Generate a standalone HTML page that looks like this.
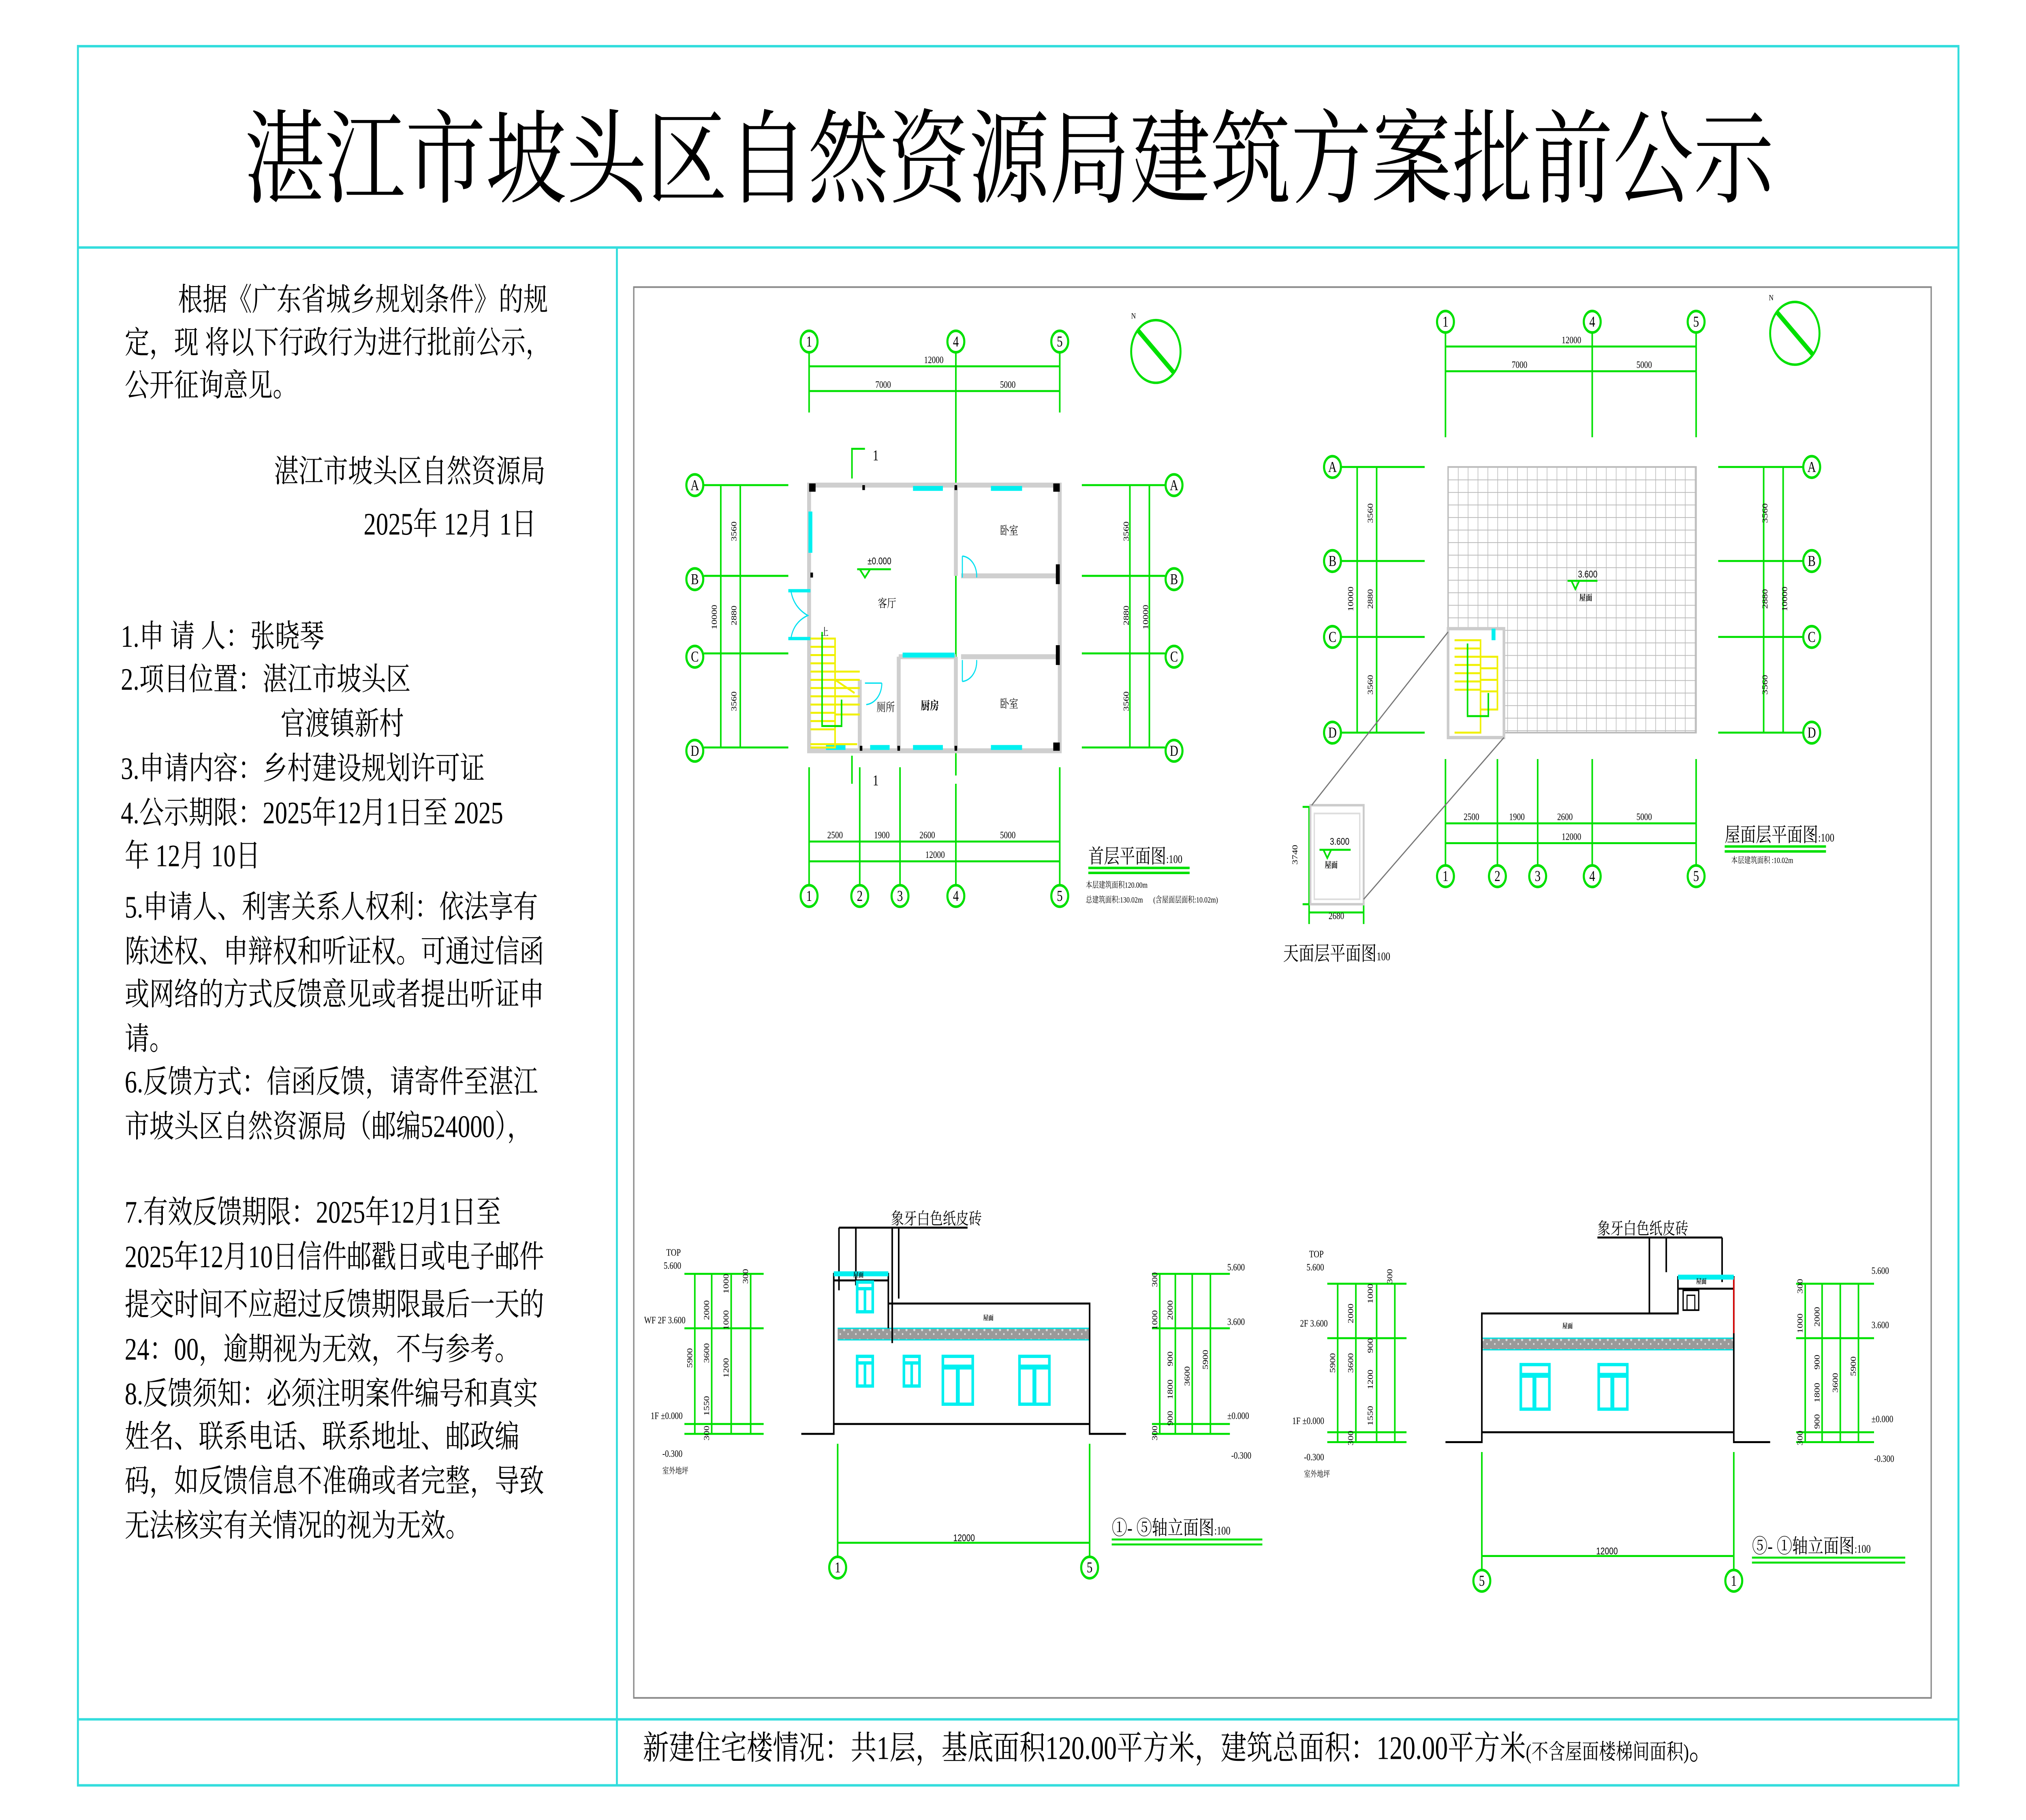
<!DOCTYPE html>
<html><head><meta charset="utf-8"><style>
html,body{margin:0;padding:0;background:#fff;width:100%;height:100%;overflow:hidden;}
svg{display:block;width:100vw;height:100vh;}
text{font-family:"Liberation Serif","Noto Serif CJK SC","Noto Sans CJK SC",serif;fill:#000;}
.s{font-family:"Liberation Sans","Noto Sans CJK SC",sans-serif;}
.g{stroke:#00e000;stroke-width:1.2;fill:none;}
.gc{stroke:#00e000;stroke-width:1.6;fill:#fff;}
.w{stroke:#cfcfcf;stroke-width:3;fill:none;}
.c{stroke:#00f0f0;stroke-width:3;fill:none;}
.k{stroke:#000;stroke-width:1.2;fill:none;}
.y{stroke:#f0f000;stroke-width:1.2;fill:none;}
</style></head><body>
<svg viewBox="0 0 1560 1103" preserveAspectRatio="none" xmlns="http://www.w3.org/2000/svg">
<defs>
<pattern id="grid" width="7.6" height="7.6" patternUnits="userSpaceOnUse" x="1115" y="283">
<rect width="7.6" height="7.6" fill="#fff"/><path d="M0 0H7.6M0 0V7.6" stroke="#b8b8b8" stroke-width="0.9"/></pattern>
<pattern id="band" width="6" height="6" patternUnits="userSpaceOnUse"><rect width="6" height="6" fill="#9a9a9a"/><circle cx="2" cy="2" r="0.8" fill="#ddd"/><circle cx="5" cy="4.5" r="0.6" fill="#ddd"/></pattern>
</defs>
<rect width="1560" height="1103" fill="#fff"/>
<g stroke="#33dddd" stroke-width="1.5" fill="none">
<rect x="60" y="28" width="1448" height="1054"/>
<line x1="60" y1="150" x2="1508" y2="150"/>
<line x1="475" y1="150" x2="475" y2="1082"/>
<line x1="60" y1="1042" x2="1508" y2="1042"/>
</g>
<rect x="488" y="174" width="999" height="855" fill="none" stroke="#888" stroke-width="1"/>
<text x="777" y="118" font-size="62" text-anchor="middle">湛江市坡头区自然资源局建筑方案批前公示</text>

<g font-size="19">
<text x="137" y="188">根据《广东省城乡规划条件》的规</text>
<text x="96" y="214">定，现 将以下行政行为进行批前公示，</text>
<text x="96" y="240">公开征询意见。</text>
<text x="211" y="292">湛江市坡头区自然资源局</text>
<text x="280" y="324">2025年 12月 1日</text>
<text x="93" y="392">1.申 请 人：张晓琴</text>
<text x="93" y="418">2.项目位置：湛江市坡头区</text>
<text x="216" y="445">官渡镇新村</text>
<text x="93" y="472">3.申请内容：乡村建设规划许可证</text>
<text x="93" y="499">4.公示期限：2025年12月1日至 2025</text>
<text x="96" y="525">年 12月 10日</text>
<text x="96" y="556">5.申请人、利害关系人权利：依法享有</text>
<text x="96" y="583">陈述权、申辩权和听证权。可通过信函</text>
<text x="96" y="609">或网络的方式反馈意见或者提出听证申</text>
<text x="96" y="636">请。</text>
<text x="96" y="662">6.反馈方式：信函反馈，请寄件至湛江</text>
<text x="96" y="689">市坡头区自然资源局（邮编524000），</text>
<text x="96" y="741">7.有效反馈期限：2025年12月1日至</text>
<text x="96" y="768">2025年12月10日信件邮戳日或电子邮件</text>
<text x="96" y="797">提交时间不应超过反馈期限最后一天的</text>
<text x="96" y="824">24：00，逾期视为无效，不与参考。</text>
<text x="96" y="851">8.反馈须知：必须注明案件编号和真实</text>
<text x="96" y="877">姓名、联系电话、联系地址、邮政编</text>
<text x="96" y="904">码，如反馈信息不准确或者完整，导致</text>
<text x="96" y="931">无法核实有关情况的视为无效。</text>
</g>
<text x="495" y="1066" font-size="20">新建住宅楼情况：共1层，基底面积120.00平方米，建筑总面积：120.00平方米<tspan font-size="13">(不含屋面楼梯间面积)</tspan>。</text>

<!-- PLAN 1 -->
<g class="g">
<path d="M623 214V250M736 214V470M816 214V250M623 222H816M623 237H816"/>
<path d="M542 294H607M542 349H607M542 396H607M542 453H607M555 294V453M570 294V453"/>
<path d="M833 294H897M833 349H897M833 396H897M833 453H897M870 294V453M885 294V453"/>
<path d="M623 465V536M662 465V536M693 465V536M736 475V536M816 465V536M623 510H816M623 522H816"/>
<path d="M656 290V272H666M656 458V475"/>
</g>
<g class="gc">
<circle cx="623" cy="207" r="6.5"/><circle cx="736" cy="207" r="6.5"/><circle cx="816" cy="207" r="6.5"/>
<circle cx="535" cy="294" r="6.5"/><circle cx="535" cy="351" r="6.5"/><circle cx="535" cy="398" r="6.5"/><circle cx="535" cy="455" r="6.5"/>
<circle cx="904" cy="294" r="6.5"/><circle cx="904" cy="351" r="6.5"/><circle cx="904" cy="398" r="6.5"/><circle cx="904" cy="455" r="6.5"/>
<circle cx="623" cy="543" r="6.5"/><circle cx="662" cy="543" r="6.5"/><circle cx="693" cy="543" r="6.5"/><circle cx="736" cy="543" r="6.5"/><circle cx="816" cy="543" r="6.5"/>
</g>
<g class="s" font-size="9" text-anchor="middle">
<text x="623" y="210">1</text><text x="736" y="210">4</text><text x="816" y="210">5</text>
<text x="535" y="297">A</text><text x="535" y="354">B</text><text x="535" y="401">C</text><text x="535" y="458">D</text>
<text x="904" y="297">A</text><text x="904" y="354">B</text><text x="904" y="401">C</text><text x="904" y="458">D</text>
<text x="623" y="546">1</text><text x="662" y="546">2</text><text x="693" y="546">3</text><text x="736" y="546">4</text><text x="816" y="546">5</text>
</g>
<g class="s" font-size="6" text-anchor="middle">
<text x="719" y="220">12000</text><text x="680" y="235">7000</text><text x="776" y="235">5000</text>
<text x="643" y="508">2500</text><text x="679" y="508">1900</text><text x="714" y="508">2600</text><text x="776" y="508">5000</text><text x="720" y="520">12000</text>
<text transform="translate(567,322) rotate(-90)">3560</text><text transform="translate(567,373) rotate(-90)">2880</text><text transform="translate(567,425) rotate(-90)">3560</text><text transform="translate(552,374) rotate(-90)">10000</text>
<text transform="translate(869,322) rotate(-90)">3560</text><text transform="translate(869,373) rotate(-90)">2880</text><text transform="translate(869,425) rotate(-90)">3560</text><text transform="translate(884,374) rotate(-90)">10000</text>
</g>
<text x="672" y="279" font-size="9">1</text><text x="672" y="476" font-size="9">1</text>
<g class="w">
<rect x="623" y="294" width="193" height="161"/>
<path d="M736 294V349M740 349H816M692 398H736M740 398H816M736 398V455M692 398V455M662 412V455"/>
</g>
<g fill="#000"><rect x="623" y="293" width="5" height="5"/><rect x="811" y="293" width="5" height="5"/><rect x="811" y="450" width="5" height="5"/><rect x="813" y="342" width="3" height="12"/><rect x="813" y="391" width="3" height="12"/><rect x="664" y="294" width="2" height="3"/><rect x="735" y="294" width="2" height="3"/><rect x="735" y="452" width="2" height="3"/><rect x="691" y="452" width="2" height="3"/><rect x="662" y="452" width="2" height="3"/><rect x="624" y="347" width="2" height="3"/></g>
<g class="c">
<path d="M703 296H726M763 296H787M636 453H651M670 453H685M703 453H726M763 453H787M624 310V335M695 397H735"/>
<path d="M607 358H624M607 387H624" stroke-width="2"/>
</g>
<g stroke="#00e0f0" stroke-width="0.8" fill="none">
<path d="M609 358Q611 368 622 373Q611 377 609 387"/>
<path d="M741 337V350M741 337A12 12 0 0 1 752 350"/>
<path d="M741 400V413M741 413A12 12 0 0 0 752 400"/>
<path d="M666 414H679M679 414A13 13 0 0 1 667 427"/>
</g>
<g class="y"><path d="M624 387H643V453H624M624 392H643M624 397H643M624 402H643M624 407H643M624 412H643M624 417H643M624 422H643M624 427H643M624 432H643M624 437H643M624 442H643M643 407H662M643 412H662M643 417H662M643 422H662M643 427H662M643 433H662M643 412L658 420M624 451H660"/></g>
<path d="M633 383V440H648V424" class="g"/>
<text x="632" y="385" font-size="6">上</text>
<g font-size="7" text-anchor="middle">
<text x="777" y="324">卧室</text><text x="777" y="429">卧室</text><text x="683" y="368">客厅</text><text x="682" y="431">厕所</text><text x="716" y="430" font-weight="bold">厨房</text>
</g>
<text x="668" y="342" font-size="6" class="s">±0.000</text>
<path d="M660 345H686M662 345L666 350L670 345" class="g"/>
<text x="838" y="523" font-size="12">首层平面图<tspan font-size="7">:100</tspan></text>
<path d="M838 526H916M838 529H916" stroke="#00e000" stroke-width="1.5"/>
<text x="836" y="538" font-size="5">本层建筑面积120.00m</text>
<text x="836" y="547" font-size="5">总建筑面积:130.02m</text>
<text x="888" y="547" font-size="5">(含屋面层面积:10.02m)</text>
<circle cx="890" cy="213" r="19" fill="none" stroke="#00e000" stroke-width="1.5"/>
<path d="M876 200L904 226" stroke="#00e000" stroke-width="3"/>
<text x="871" y="193" font-size="5">N</text>
<circle cx="1382" cy="202" r="19" fill="none" stroke="#00e000" stroke-width="1.5"/>
<path d="M1368 189L1396 215" stroke="#00e000" stroke-width="3"/>
<text x="1362" y="182" font-size="5">N</text>

<!-- PLAN 2 -->
<rect x="1115" y="283" width="191" height="161" fill="url(#grid)" stroke="#bbb"/>
<rect x="1115" y="381" width="43" height="66" fill="#fff" stroke="#ccc" stroke-width="2"/>
<g class="y"><path d="M1120 388H1140V444H1120M1120 393H1140M1120 398H1140M1120 403H1140M1120 408H1140M1120 413H1140M1120 418H1140M1140 398H1153V430H1140M1140 405H1153M1140 412H1153M1140 419H1153"/></g>
<path d="M1130 390V434H1146V420" class="g"/>
<path d="M1150 381V388" class="c" stroke-width="2"/>
<g class="g">
<path d="M1113 202V265M1226 202V265M1306 202V265M1113 210H1306M1113 225H1306"/>
<path d="M1033 283H1097M1033 340H1097M1033 386H1097M1033 444H1097M1045 283V444M1060 283V444"/>
<path d="M1323 283H1388M1323 340H1388M1323 386H1388M1323 444H1388M1358 283V444M1373 283V444"/>
<path d="M1113 460V524M1153 460V524M1184 460V524M1226 460V524M1306 460V524M1113 499H1306M1113 511H1306"/>
<path d="M1008 489V548M1003 489H1013M1003 548H1013M1008 553H1050M1008 548V560M1050 548V560"/>
</g>
<g class="gc">
<circle cx="1113" cy="195" r="6.5"/><circle cx="1226" cy="195" r="6.5"/><circle cx="1306" cy="195" r="6.5"/>
<circle cx="1026" cy="283" r="6.5"/><circle cx="1026" cy="340" r="6.5"/><circle cx="1026" cy="386" r="6.5"/><circle cx="1026" cy="444" r="6.5"/>
<circle cx="1395" cy="283" r="6.5"/><circle cx="1395" cy="340" r="6.5"/><circle cx="1395" cy="386" r="6.5"/><circle cx="1395" cy="444" r="6.5"/>
<circle cx="1113" cy="531" r="6.5"/><circle cx="1153" cy="531" r="6.5"/><circle cx="1184" cy="531" r="6.5"/><circle cx="1226" cy="531" r="6.5"/><circle cx="1306" cy="531" r="6.5"/>
</g>
<g class="s" font-size="9" text-anchor="middle">
<text x="1113" y="198">1</text><text x="1226" y="198">4</text><text x="1306" y="198">5</text>
<text x="1026" y="286">A</text><text x="1026" y="343">B</text><text x="1026" y="389">C</text><text x="1026" y="447">D</text>
<text x="1395" y="286">A</text><text x="1395" y="343">B</text><text x="1395" y="389">C</text><text x="1395" y="447">D</text>
<text x="1113" y="534">1</text><text x="1153" y="534">2</text><text x="1184" y="534">3</text><text x="1226" y="534">4</text><text x="1306" y="534">5</text>
</g>
<g class="s" font-size="6" text-anchor="middle">
<text x="1210" y="208">12000</text><text x="1170" y="223">7000</text><text x="1266" y="223">5000</text>
<text x="1133" y="497">2500</text><text x="1168" y="497">1900</text><text x="1205" y="497">2600</text><text x="1266" y="497">5000</text><text x="1210" y="509">12000</text>
<text transform="translate(1057,311) rotate(-90)">3560</text><text transform="translate(1057,363) rotate(-90)">2880</text><text transform="translate(1057,415) rotate(-90)">3560</text><text transform="translate(1042,363) rotate(-90)">10000</text>
<text transform="translate(1361,311) rotate(-90)">3560</text><text transform="translate(1361,363) rotate(-90)">2880</text><text transform="translate(1361,415) rotate(-90)">3560</text><text transform="translate(1376,363) rotate(-90)">10000</text>
<text transform="translate(999,518) rotate(-90)">3740</text><text x="1029" y="557">2680</text>
</g>
<text x="1215" y="350" font-size="6" class="s">3.600</text>
<path d="M1207 352H1230M1210 352L1213 357L1216 352" class="g"/>
<text x="1216" y="364" font-size="5" font-weight="bold">屋面</text>
<rect x="1009" y="488" width="41" height="60" fill="#fff" stroke="#ccc" stroke-width="1.5"/>
<rect x="1012" y="493" width="35" height="52" fill="none" stroke="#ddd" stroke-width="1"/>
<text x="1024" y="512" font-size="6" class="s">3.600</text>
<path d="M1016 515H1040M1019 515L1022 520L1025 515" class="g"/>
<text x="1020" y="526" font-size="5" font-weight="bold">屋面</text>
<path d="M1010 488L1115 383M1050 545L1158 447" stroke="#777" stroke-width="0.8"/>
<text x="988" y="582" font-size="12">天面层平面图<tspan font-size="7">100</tspan></text>
<text x="1328" y="510" font-size="12">屋面层平面图<tspan font-size="7">:100</tspan></text>
<path d="M1328 513H1406M1328 516H1406" stroke="#00e000" stroke-width="1.5"/>
<text x="1333" y="523" font-size="5">本层建筑面积 :10.02m</text>

<!-- ELEVATION 1 -->
<rect x="645" y="805" width="194" height="7" fill="url(#band)"/>
<path d="M645 805H839M645 812H839" stroke="#00e0e0" stroke-width="0.8"/>
<g class="k">
<path d="M617 869H642V772H684V790H839V869H867M642 863H839M642 776H684M684 776V805"/>
<path d="M646 744H745M646 744V782M659 744V779M687 744V814M692 744V787"/>
</g>
<path d="M642 772H684" class="c" stroke-width="1"/>
<g fill="#00f0f0">
<rect x="659" y="776" width="14" height="20"/><rect x="659" y="821" width="14" height="20"/><rect x="695" y="821" width="14" height="20"/>
<rect x="725" y="821" width="25" height="31"/><rect x="784" y="821" width="25" height="31"/>
</g>
<g fill="#fff">
<rect x="661" y="778" width="10" height="2"/><rect x="661" y="782" width="4" height="12"/><rect x="667" y="782" width="4" height="12"/>
<rect x="661" y="823" width="10" height="2"/><rect x="661" y="827" width="4" height="12"/><rect x="667" y="827" width="4" height="12"/>
<rect x="697" y="823" width="10" height="2"/><rect x="697" y="827" width="4" height="12"/><rect x="703" y="827" width="4" height="12"/>
<rect x="727" y="823" width="21" height="4"/><rect x="727" y="830" width="9" height="20"/><rect x="739" y="830" width="9" height="20"/>
<rect x="786" y="823" width="21" height="4"/><rect x="786" y="830" width="9" height="20"/><rect x="798" y="830" width="9" height="20"/>
</g>
<text x="757" y="800" font-size="4" font-weight="bold">屋面</text><text x="657" y="774" font-size="4" font-weight="bold">屋面</text>
<text x="686" y="742" font-size="10">象牙白色纸皮砖</text>
<g class="g">
<path d="M645 875V943M839 875V943M645 935H839"/>
<path d="M527 772H588M527 805H588M527 863H588M527 869H588M535 772V869M548 772V869M563 772V869M578 772V869"/>
<path d="M887 772H947M887 805H947M887 863H947M887 869H947M893 772V869M905 772V869M918 772V869M932 772V869"/>
</g>
<g class="gc"><circle cx="645" cy="950" r="6.5"/><circle cx="839" cy="950" r="6.5"/></g>
<g class="s" font-size="9" text-anchor="middle"><text x="645" y="953">1</text><text x="839" y="953">5</text></g>
<text x="734" y="934" font-size="6" class="s">12000</text>
<g class="s" font-size="6">
<text x="513" y="761">TOP</text><text x="511" y="769">5.600</text>
<text x="496" y="802">WF 2F 3.600</text>
<text x="501" y="860">1F ±0.000</text>
<text x="510" y="883">-0.300</text><text x="510" y="893" font-size="5">室外地坪</text>
<text x="945" y="770">5.600</text><text x="945" y="803">3.600</text><text x="945" y="860">±0.000</text><text x="948" y="884">-0.300</text>
<text transform="translate(546,800) rotate(-90)">2000</text><text transform="translate(546,826) rotate(-90)">3600</text><text transform="translate(546,858) rotate(-90)">1550</text><text transform="translate(533,829) rotate(-90)">5900</text>
<text transform="translate(561,784) rotate(-90)">1000</text><text transform="translate(561,806) rotate(-90)">1000</text><text transform="translate(561,835) rotate(-90)">1200</text><text transform="translate(576,778) rotate(-90)">300</text><text transform="translate(546,873) rotate(-90)">300</text>
<text transform="translate(903,800) rotate(-90)">2000</text><text transform="translate(930,830) rotate(-90)">5900</text><text transform="translate(916,840) rotate(-90)">3600</text>
<text transform="translate(903,828) rotate(-90)">900</text><text transform="translate(903,848) rotate(-90)">1800</text><text transform="translate(903,864) rotate(-90)">900</text>
<text transform="translate(891,780) rotate(-90)">300</text><text transform="translate(891,806) rotate(-90)">1000</text><text transform="translate(891,873) rotate(-90)">300</text>
</g>
<text x="856" y="930" font-size="12">①- ⑤轴立面图<tspan font-size="7">:100</tspan></text>
<path d="M856 933H972M856 936H972" stroke="#00e000" stroke-width="1.2"/>

<!-- ELEVATION 2 -->
<rect x="1141" y="811" width="194" height="7" fill="url(#band)"/>
<path d="M1141 811H1335M1141 818H1335" stroke="#00e0e0" stroke-width="0.8"/>
<g class="k">
<path d="M1113 874H1141V796H1292V774H1335V874H1363M1141 868H1335M1292 781H1335"/>
<path d="M1230 750H1326M1270 750V796M1283 750V771M1326 750V777"/>
</g>
<path d="M1335 774V808" stroke="#e00" stroke-width="1"/>
<path d="M1292 774H1335" class="c" stroke-width="1"/>
<rect x="1296" y="782" width="12" height="12" fill="none" stroke="#000" stroke-width="1"/>
<rect x="1299" y="785" width="6" height="9" fill="none" stroke="#000" stroke-width="0.8"/>
<g fill="#00f0f0"><rect x="1170" y="826" width="24" height="29"/><rect x="1230" y="826" width="24" height="29"/></g>
<g fill="#fff">
<rect x="1172" y="828" width="20" height="4"/><rect x="1172" y="835" width="8" height="18"/><rect x="1183" y="835" width="9" height="18"/>
<rect x="1232" y="828" width="20" height="4"/><rect x="1232" y="835" width="8" height="18"/><rect x="1243" y="835" width="9" height="18"/>
</g>
<text x="1203" y="805" font-size="4" font-weight="bold">屋面</text><text x="1306" y="778" font-size="4" font-weight="bold">屋面</text>
<text x="1230" y="748" font-size="10">象牙白色纸皮砖</text>
<g class="g">
<path d="M1141 880V951M1335 880V951M1141 943H1335"/>
<path d="M1022 778H1083M1022 811H1083M1022 868H1083M1022 874H1083M1030 778V874M1044 778V874M1060 778V874M1074 778V874"/>
<path d="M1383 778H1443M1383 811H1443M1383 868H1443M1383 874H1443M1390 778V874M1403 778V874M1417 778V874M1431 778V874"/>
</g>
<g class="gc"><circle cx="1141" cy="958" r="6.5"/><circle cx="1335" cy="958" r="6.5"/></g>
<g class="s" font-size="9" text-anchor="middle"><text x="1141" y="961">5</text><text x="1335" y="961">1</text></g>
<text x="1229" y="942" font-size="6" class="s">12000</text>
<g class="s" font-size="6">
<text x="1008" y="762">TOP</text><text x="1006" y="770">5.600</text>
<text x="1001" y="804">2F 3.600</text>
<text x="995" y="863">1F ±0.000</text>
<text x="1004" y="885">-0.300</text><text x="1004" y="895" font-size="5">室外地坪</text>
<text x="1441" y="772">5.600</text><text x="1441" y="805">3.600</text><text x="1441" y="862">±0.000</text><text x="1443" y="886">-0.300</text>
<text transform="translate(1042,802) rotate(-90)">2000</text><text transform="translate(1042,832) rotate(-90)">3600</text><text transform="translate(1028,832) rotate(-90)">5900</text>
<text transform="translate(1057,790) rotate(-90)">1000</text><text transform="translate(1057,820) rotate(-90)">900</text><text transform="translate(1057,842) rotate(-90)">1200</text><text transform="translate(1057,864) rotate(-90)">1550</text><text transform="translate(1072,778) rotate(-90)">300</text><text transform="translate(1042,876) rotate(-90)">300</text>
<text transform="translate(1401,804) rotate(-90)">2000</text><text transform="translate(1429,834) rotate(-90)">5900</text><text transform="translate(1415,844) rotate(-90)">3600</text>
<text transform="translate(1401,830) rotate(-90)">900</text><text transform="translate(1401,850) rotate(-90)">1800</text><text transform="translate(1401,866) rotate(-90)">900</text>
<text transform="translate(1388,784) rotate(-90)">300</text><text transform="translate(1388,808) rotate(-90)">1000</text><text transform="translate(1388,876) rotate(-90)">300</text>
</g>
<text x="1349" y="941" font-size="12">⑤- ①轴立面图<tspan font-size="7">:100</tspan></text>
<path d="M1349 944H1467M1349 947H1467" stroke="#00e000" stroke-width="1.2"/>
</svg>
</body></html>
